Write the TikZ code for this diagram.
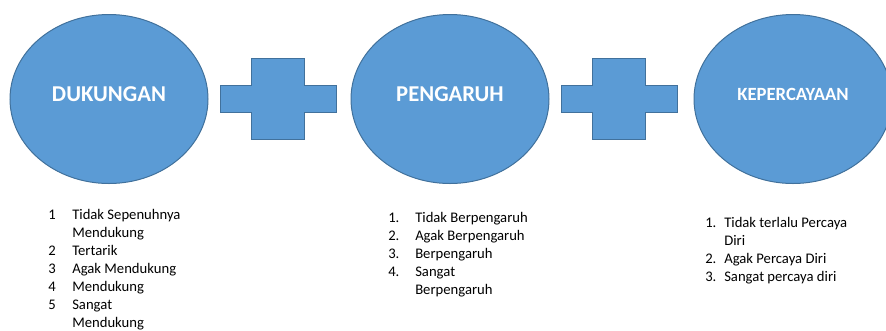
\documentclass[tikz,border=0pt]{standalone}
\usepackage{fontspec}
\setmainfont{Carlito}
\usetikzlibrary{shapes.geometric,positioning}
\definecolor{biru}{HTML}{5B9BD5}
\definecolor{birutua}{HTML}{41719C}

\begin{document}
\begin{tikzpicture}[x=0.75pt, y=-0.75pt,
	bulat/.style={ellipse, draw=birutua, fill=biru, line width=0.75pt, minimum width=148.5pt, minimum height=126.75pt, inner sep=0pt, text=white, text depth=7.5pt},
	tambah/.style={draw=birutua, fill=biru, line width=0.75pt},
	daftar/.style={anchor=base west, inner sep=0pt, align=left, font=\fontsize{11}{13.5}\selectfont}]
	\clip (0,0) rectangle (886,330);
	\useasboundingbox (0,0) rectangle (886,330);
	
	% lingkaran
	\node[bulat, font=\fontsize{17}{20}\bfseries] (dukungan) at (109,99) {DUKUNGAN};
	\node[bulat, font=\fontsize{17}{20}\bfseries] (pengaruh) at (450,99) {PENGARUH};
	\node[bulat, font=\fontsize{14}{17}\bfseries] (percaya) at (793,99) {KEPERCAYAAN};
	
	% tanda tambah
	\foreach \px in {220,561}
		\draw[tambah] (\px,85) -- (\px+31.5,85) -- (\px+31.5,58) -- (\px+84,58) -- (\px+84,85) -- (\px+116,85) -- (\px+116,112) -- (\px+84,112) -- (\px+84,139) -- (\px+31.5,139) -- (\px+31.5,112) -- (\px,112) -- cycle;
	
	% daftar
	\node[daftar] (skaladukungan) at (48,219) {\begin{tabular}[t]{@{}p{18pt}@{}l@{}}
		1 & Tidak Sepenuhnya\\
		  & Mendukung\\
		2 & Tertarik\\
		3 & Agak Mendukung\\
		4 & Mendukung\\
		5 & Sangat\\
		  & Mendukung
	\end{tabular}};
	\node[daftar] (skalapengaruh) at (388,222) {\begin{tabular}[t]{@{}p{20.25pt}@{}l@{}}
		1. & Tidak Berpengaruh\\
		2. & Agak Berpengaruh\\
		3. & Berpengaruh\\
		4. & Sangat\\
		   & Berpengaruh
	\end{tabular}};
	\node[daftar] (skalapercaya) at (705,227) {\begin{tabular}[t]{@{}p{14.25pt}@{}l@{}}
		1. & Tidak terlalu Percaya\\
		   & Diri\\
		2. & Agak Percaya Diri\\
		3. & Sangat percaya diri
	\end{tabular}};
\end{tikzpicture}
\end{document}
